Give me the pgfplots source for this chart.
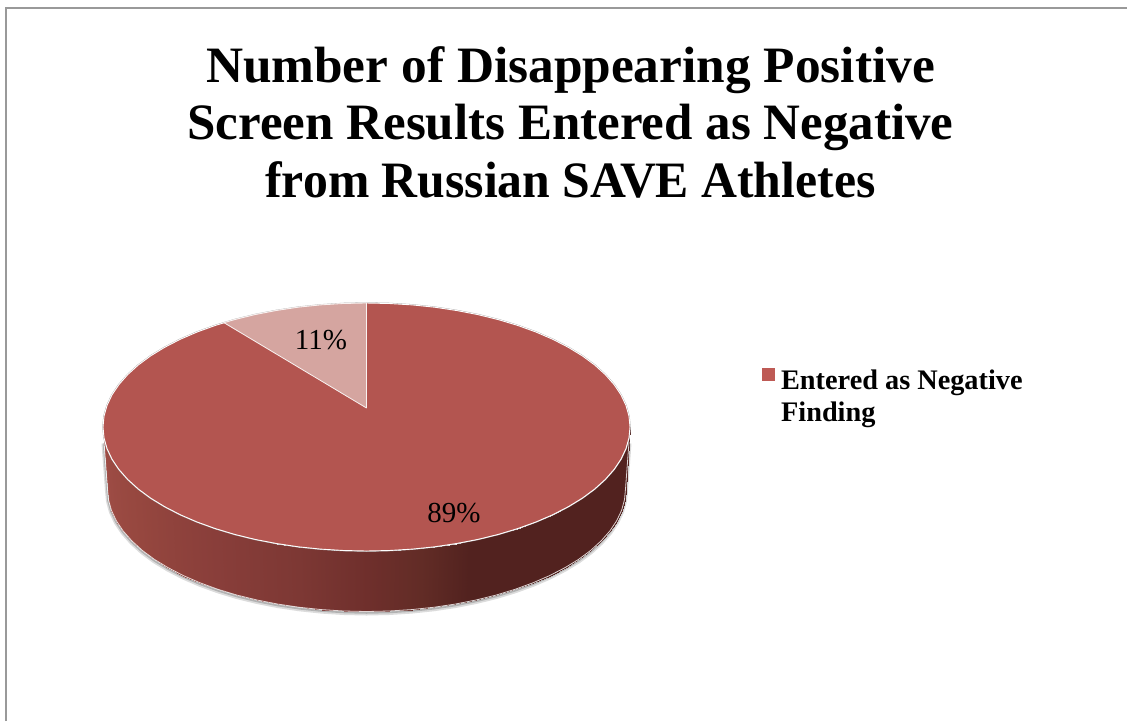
\documentclass[border=0pt]{standalone}
\usepackage{pgfplots}
\usepackage{pgfplotstable}
\usepackage{fontspec}
\pgfplotsset{compat=1.18}
\setmainfont{Liberation Serif}

\definecolor{topface}{RGB}{179,85,80}
\definecolor{wedge}{RGB}{213,165,160}
\definecolor{legsq}{RGB}{190,90,85}

% pie values: 89 / 11, traced in picture pixels
\pgfplotstableread{
x y
630.0 427
629.0 437.8
626.0 448.5
621.0 459.1
614.1 469.4
605.3 479.4
594.7 489
582.4 498.1
568.3 506.7
552.8 514.7
535.9 522
517.6 528.6
498.3 534.4
477.9 539.4
456.6 543.5
434.7 546.8
412.3 549.1
389.5 550.5
366.5 551
343.5 550.5
320.7 549.1
298.3 546.8
276.4 543.5
255.1 539.4
234.7 534.4
215.4 528.6
197.1 522
180.2 514.7
164.7 506.7
150.6 498.1
138.3 489
127.7 479.4
118.9 469.4
112.0 459.1
107.0 448.5
104.0 437.8
103 427
104.0 416.2
107.0 405.5
112 394.9
118.9 384.6
127.7 374.6
138.3 365
150.6 355.9
164.7 347.3
180.2 339.3
197.1 332
215.4 325.4
234.7 319.6
255.1 314.6
276.4 310.5
298.3 307.2
320.7 304.9
343.5 303.5
366.5 303
389.5 303.5
412.3 304.9
434.7 307.2
456.6 310.5
477.9 314.6
498.3 319.6
517.6 325.4
535.9 332
552.8 339.3
568.3 347.3
582.4 355.9
594.7 365
605.3 374.6
614.1 384.6
621 394.9
626 405.5
629 416.2
630.0 427
}\topring

\pgfplotstableread{
x y
629 442
625.5 489
624.5 499.7
621.6 510.3
616.7 520.7
609.9 530.9
601.2 540.8
590.8 550.3
578.7 559.3
564.9 567.7
549.6 575.6
533 582.8
515.1 589.3
496 595.1
476 600
455.1 604.1
433.5 607.3
411.5 609.6
389.1 611
366.5 611.5
343.9 611
321.5 609.6
299.5 607.3
277.9 604.1
257 600
237 595.1
217.9 589.3
200 582.8
183.4 575.6
168.1 567.7
154.3 559.3
142.2 550.3
131.8 540.8
123.1 530.9
116.3 520.7
111.4 510.3
108.5 499.7
107.5 489
104 442
}\rim

% side wall: top edge / bottom edge pairs, c = angle round the front
\pgfplotstableread{
x y c
630.0 427 0
625.5 489 0
629.0 437.8 5
624.5 499.7 5
626.0 448.5 10
621.6 510.3 10
621.0 459.1 15
616.7 520.7 15
614.1 469.4 20
609.9 530.9 20
605.3 479.4 25
601.2 540.8 25
594.7 489 30
590.8 550.3 30
582.4 498.1 35
578.7 559.3 35
568.3 506.7 40
564.9 567.7 40
552.8 514.7 45
549.6 575.6 45
535.9 522 50
533 582.8 50
517.6 528.6 55
515.1 589.3 55
498.3 534.4 60
496 595.1 60
477.9 539.4 65
476 600 65
456.6 543.5 70
455.1 604.1 70
434.7 546.8 75
433.5 607.3 75
412.3 549.1 80
411.5 609.6 80
389.5 550.5 85
389.1 611 85
366.5 551 90
366.5 611.5 90
343.5 550.5 95
343.9 611 95
320.7 549.1 100
321.5 609.6 100
298.3 546.8 105
299.5 607.3 105
276.4 543.5 110
277.9 604.1 110
255.1 539.4 115
257 600 115
234.7 534.4 120
237 595.1 120
215.4 528.6 125
217.9 589.3 125
197.1 522 130
200 582.8 130
180.2 514.7 135
183.4 575.6 135
164.7 506.7 140
168.1 567.7 140
150.6 498.1 145
154.3 559.3 145
138.3 489 150
142.2 550.3 150
127.7 479.4 155
131.8 540.8 155
118.9 469.4 160
123.1 530.9 160
112.0 459.1 165
116.3 520.7 165
107.0 448.5 170
111.4 510.3 170
104.0 437.8 175
108.5 499.7 175
103 427 180
107.5 489 180
}\sidewall

\begin{document}
\begin{tikzpicture}
\begin{axis}[
    scale only axis,
    width=1127pt,
    height=721pt,
    xmin=0, xmax=1127,
    ymin=0, ymax=721,
    y dir=reverse,
    hide axis,
    colormap={side}{
      rgb255(0pt)=(82,34,31);
      rgb255(67pt)=(82,34,31);
      rgb255(78pt)=(98,44,38);
      rgb255(90pt)=(111,47,44);
      rgb255(105pt)=(125,56,52);
      rgb255(125pt)=(137,62,58);
      rgb255(150pt)=(150,71,63);
      rgb255(180pt)=(160,78,71)},
    point meta min=0,
    point meta max=180,
    legend style={at={(axis cs:762,365)},anchor=north west,draw=none,fill=none,
      font=\fontsize{28.3}{32}\selectfont\bfseries,inner sep=0pt},
    legend cell align=left,
    legend image code/.code={\fill[legsq] (0pt,-1pt) rectangle (12pt,11pt);\path (16pt,0pt);},
]
% frame of the chart area
\addplot[forget plot,color=black!40,line width=1.3pt] coordinates {(6,721) (6,8) (1127,8)};

% shadow round the base
\addplot[forget plot,color=black!45,opacity=0.3,line width=5pt,line join=round,yshift=-1.5pt] table {\rim};
\addplot[forget plot,color=black!55,opacity=0.4,line width=2.5pt,line join=round,yshift=-1pt] table {\rim};

% side wall
\addplot[forget plot,surf,shader=interp,mesh/rows=37,mesh/cols=2,point meta=\thisrow{c}] table {\sidewall};
\addplot[forget plot,color=white,opacity=0.8,line width=0.8pt] table[x=x,y=y] {\rim};

% top face
\addplot[color=black!35,line width=1.5pt,fill=topface,forget plot] table {\topring};
\addplot[color=white,line width=0.9pt,fill=topface] table {\topring};
\addlegendentry{\begin{tabular}[t]{@{}l@{}}Entered as Negative\\Finding\end{tabular}}

% 11% slice
\addplot[forget plot,color=white!85!wedge,line width=0.8pt,fill=wedge] coordinates {
  (366.5,408) (366.5,303) (343.5,303.5) (320.7,304.9) (298.3,307.2) (276.4,310.5)
  (255.1,314.6) (234.7,319.6) (224,322.7) (366.5,408)};

% data labels
\addplot[forget plot,draw=none,point meta=explicit symbolic,nodes near coords,
  every node near coord/.append style={anchor=center,text=black,font=\fontsize{29}{29}\selectfont}]
  coordinates {(321,340)[11\%] (454,513)[89\%]};

% title
\node[align=center,font=\fontsize{51}{57.5}\selectfont\bfseries,anchor=center] at (axis cs:570.5,122)
  {\scalebox{1.007}[1]{Number of Disappearing Positive}\\Screen Results Entered as Negative\\\scalebox{0.975}[1]{from Russian SAVE Athletes}};
\end{axis}
\path (0,0) rectangle (1127pt,721pt);
\end{tikzpicture}
\end{document}
